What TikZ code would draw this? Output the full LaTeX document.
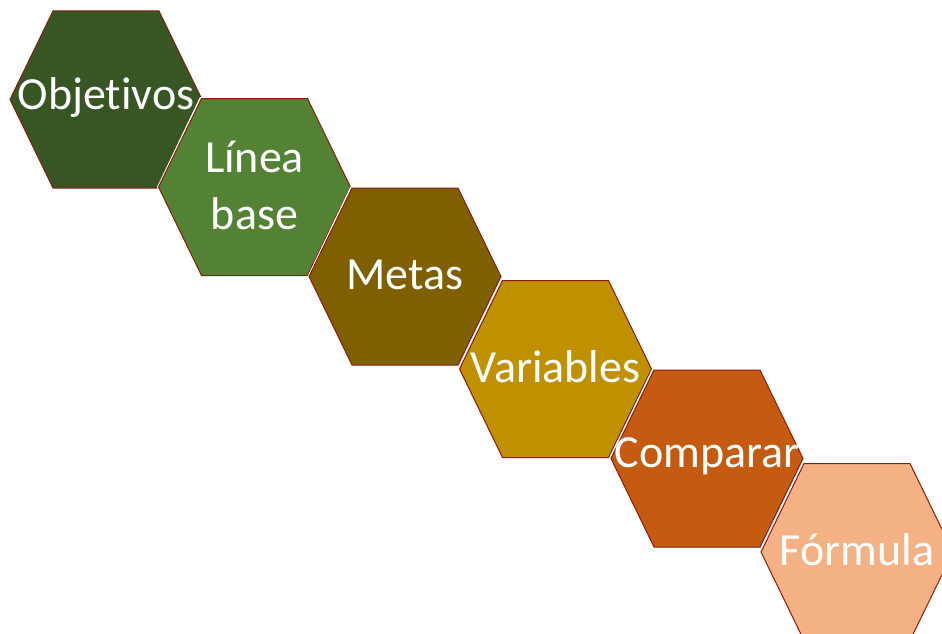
\documentclass[tikz,border=0pt]{standalone}
\usepackage{fontspec}
\setmainfont[Ligatures=NoCommon]{Carlito}
\definecolor{hexA}{HTML}{375623}
\definecolor{hexB}{HTML}{548235}
\definecolor{hexC}{HTML}{7F6000}
\definecolor{hexD}{HTML}{BF9000}
\definecolor{hexE}{HTML}{C55A11}
\definecolor{hexF}{HTML}{F4B183}
\definecolor{hexedge}{HTML}{8B1A10}
\tikzset{
  hexlabel/.style={text=white, font=\fontsize{46}{57}\selectfont, align=center, inner sep=0pt},
  hexshape/.style={draw=hexedge, line width=1pt, line join=miter}
}
\newcommand{\myhex}[5]{%
  \coordinate (#1) at (#2,#3);
  \fill[white] ($(#1)+(-97.5,0)$) -- ($(#1)+(-54.5,-90)$) -- ($(#1)+(54.5,-90)$) -- ($(#1)+(97.5,0)$) -- ($(#1)+(54.5,90)$) -- ($(#1)+(-54.5,90)$) -- cycle;
  \path[hexshape, fill=#4] ($(#1)+(-96,0)$) -- ($(#1)+(-53,-88.5)$) -- ($(#1)+(53,-88.5)$) -- ($(#1)+(96,0)$) -- ($(#1)+(53,88.5)$) -- ($(#1)+(-53,88.5)$) -- cycle;
  \node[hexlabel] (#1-t) at ($(#1)+(0,-2)$) {#5};
}
\usetikzlibrary{calc}
\begin{document}
\begin{tikzpicture}[x=1pt,y=-1pt]
\useasboundingbox (0,0) rectangle (942,634);
\clip (0,0) rectangle (942,634);
\myhex{h1}{106}{99.5}{hexA}{Objetivos}
\myhex{h2}{254.5}{187}{hexB}{Línea\\base}
\myhex{h3}{405}{276.5}{hexC}{Metas}
\myhex{h4}{555.5}{369}{hexD}{Variables}
\myhex{h5}{707}{458.5}{hexE}{Comparar}
\myhex{h6}{857}{552}{hexF}{Fórmula}
\end{tikzpicture}
\end{document}
